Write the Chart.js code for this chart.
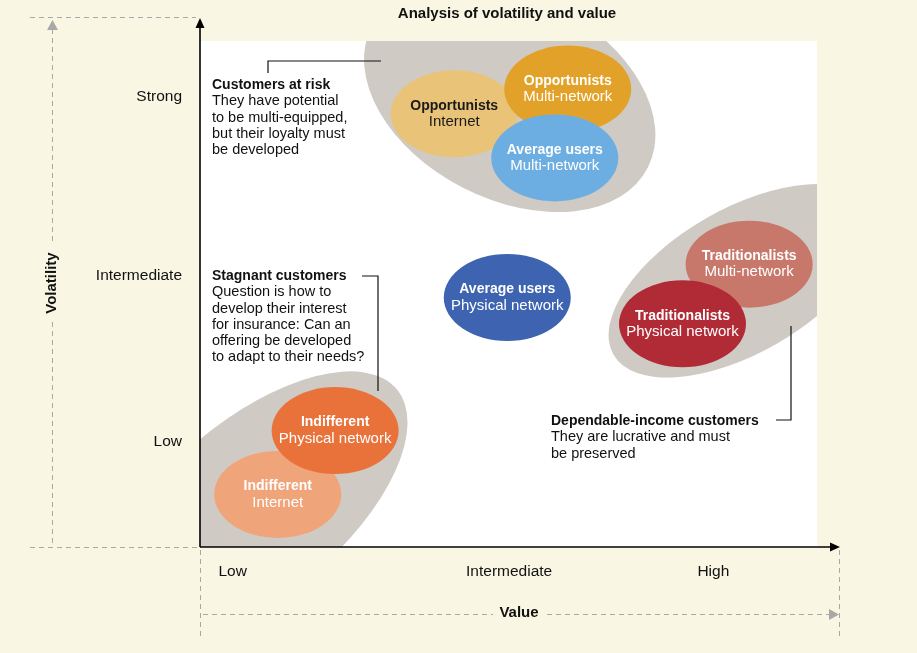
<!DOCTYPE html>
<html>
<head>
<meta charset="utf-8">
<script src="https://cdn.jsdelivr.net/npm/chart.js@4.4.1/dist/chart.umd.min.js"></script>
<style>
  html, body { margin: 0; padding: 0; background: #f9f6e3; }
  #wrap { width: 917px; height: 653px; }
</style>
</head>
<body>
<div id="wrap"><canvas id="quadrant"></canvas></div>
<script>
// customer segments (bubbles)
const segmentNames = ['Opportunists', 'Opportunists', 'Average users', 'Average users', 'Traditionalists', 'Traditionalists', 'Indifferent', 'Indifferent'];
const channelNames = ['Internet', 'Multi-network', 'Multi-network', 'Physical network', 'Multi-network', 'Physical network', 'Internet', 'Physical network'];
const valueScores = [41.2, 59.6, 57.5, 49.8, 89.0, 78.2, 12.6, 21.9];
const volatilityScores = [85.6, 90.5, 76.9, 49.3, 55.9, 44.1, 10.4, 23.0];

// grey groupings behind the bubbles
const groupNames = ['Customers at risk', 'Dependable-income customers', 'Stagnant customers'];
const groupValue = [50.2, 87.8, 8.9];
const groupVolatility = [88.9, 52.6, 7.7];

// axis ticks
const valueTicks = [5.3, 50.1, 83.2];
const valueTickLabels = ['Low', 'Intermediate', 'High'];
const volatilityTicks = [88.9, 53.6, 20.8];
const volatilityTickLabels = ['Strong', 'Intermediate', 'Low'];

// styles
const FONT = '"Liberation Sans", Arial, Helvetica, sans-serif';
const INK = '#111';
const bubbleColors = ['#e9c377', '#e2a229', '#6caee2', '#3d63b1', '#c8786b', '#b12b37', '#efa479', '#e9723a'];
const bubbleInk = ['#1a1a1a', '#fff', '#fff', '#fff', '#fff', '#fff', '#fff', '#fff'];
const BUBBLE_RX = 63.5, BUBBLE_RY = 43.5;
const hullShape = [{a: 155, b: 102, rot: 27}, {a: 148, b: 72, rot: -30}, {a: 185, b: 88, rot: -40}];

const notes = [
  {x: 212, y: 85, lines: ['Customers at risk', 'They have potential', 'to be multi-equipped,', 'but their loyalty must', 'be developed'],
   bracket: [[268, 73], [268, 61], [381, 61]]},
  {x: 212, y: 276, lines: ['Stagnant customers', 'Question is how to', 'develop their interest', 'for insurance: Can an', 'offering be developed', 'to adapt to their needs?'],
   bracket: [[362, 276], [378, 276], [378, 391]]},
  {x: 551, y: 421, lines: ['Dependable-income customers', 'They are lucrative and must', 'be preserved'],
   bracket: [[776, 420], [791, 420], [791, 326]]}
];

function ellipse(ctx, x, y, rx, ry, rot, fill) {
  ctx.beginPath();
  ctx.ellipse(x, y, rx, ry, rot * Math.PI / 180, 0, Math.PI * 2);
  ctx.fillStyle = fill;
  ctx.fill();
}

function line(ctx, pts) {
  ctx.beginPath();
  ctx.moveTo(pts[0][0], pts[0][1]);
  for (let i = 1; i < pts.length; i++) ctx.lineTo(pts[i][0], pts[i][1]);
  ctx.stroke();
}

function tri(ctx, pts, fill) {
  ctx.beginPath();
  ctx.moveTo(pts[0][0], pts[0][1]);
  ctx.lineTo(pts[1][0], pts[1][1]);
  ctx.lineTo(pts[2][0], pts[2][1]);
  ctx.closePath();
  ctx.fillStyle = fill;
  ctx.fill();
}

const quadrantPlugin = {
  id: 'quadrant',
  beforeDraw(chart) {
    const {ctx, chartArea: a} = chart;
    ctx.save();
    ctx.fillStyle = '#f9f6e3';
    ctx.fillRect(0, 0, chart.width, chart.height);
    ctx.fillStyle = '#fff';
    ctx.fillRect(a.left, a.top, a.right - a.left, a.bottom - a.top);
    ctx.restore();
  },
  beforeDatasetsDraw(chart) {
    const {ctx, chartArea: a} = chart;
    ctx.save();
    ctx.beginPath();
    ctx.rect(a.left, a.top, a.right - a.left, a.bottom - a.top);
    ctx.clip();
    chart.getDatasetMeta(1).data.forEach((pt, i) => {
      const h = hullShape[i];
      ellipse(ctx, pt.x, pt.y, h.a, h.b, h.rot, '#cfcac4');
    });
    ctx.textAlign = 'center';
    ctx.textBaseline = 'middle';
    chart.getDatasetMeta(0).data.forEach((pt, i) => {
      ellipse(ctx, pt.x, pt.y, BUBBLE_RX, BUBBLE_RY, 0, bubbleColors[i]);
      ctx.fillStyle = bubbleInk[i];
      ctx.font = 'bold 14px ' + FONT;
      ctx.fillText(segmentNames[i], pt.x, pt.y - 8);
      ctx.font = '15px ' + FONT;
      ctx.fillText(channelNames[i], pt.x, pt.y + 8);
    });
    ctx.restore();
  },
  afterDraw(chart) {
    const {ctx, chartArea: a} = chart;
    ctx.save();

    // dashed guides
    ctx.strokeStyle = '#a8a8a8';
    ctx.lineWidth = 1;
    ctx.setLineDash([5, 4]);
    line(ctx, [[30, 17.5], [196, 17.5]]);
    line(ctx, [[30, a.bottom + 0.5], [197, a.bottom + 0.5]]);
    line(ctx, [[52.5, 29], [52.5, 243]]);
    line(ctx, [[52.5, 322], [52.5, a.bottom]]);
    line(ctx, [[a.left + 0.5, a.bottom + 3], [a.left + 0.5, 637]]);
    line(ctx, [[839.5, a.bottom + 3], [839.5, 637]]);
    line(ctx, [[203, 614.5], [493, 614.5]]);
    line(ctx, [[547, 614.5], [830, 614.5]]);
    ctx.setLineDash([]);
    tri(ctx, [[52.5, 20], [47, 30], [58, 30]], '#a8a8a8');
    tri(ctx, [[839, 614.5], [829, 609], [829, 620]], '#a8a8a8');

    // axes
    ctx.strokeStyle = '#000';
    ctx.lineWidth = 1.6;
    line(ctx, [[a.left, a.bottom], [a.left, 27]]);
    line(ctx, [[a.left, a.bottom], [831, a.bottom]]);
    tri(ctx, [[a.left, 18], [a.left - 4.5, 28], [a.left + 4.5, 28]], '#000');
    tri(ctx, [[840, a.bottom], [830, a.bottom - 4.5], [830, a.bottom + 4.5]], '#000');

    // titles
    ctx.fillStyle = INK;
    ctx.textAlign = 'center';
    ctx.textBaseline = 'middle';
    ctx.font = 'bold 15px ' + FONT;
    ctx.fillText('Analysis of volatility and value', 507, 14);
    ctx.fillText('Value', 519, 613);
    ctx.save();
    ctx.translate(52, 283);
    ctx.rotate(-Math.PI / 2);
    ctx.fillText('Volatility', 0, 0);
    ctx.restore();

    // group notes
    ctx.textAlign = 'left';
    notes.forEach(n => {
      n.lines.forEach((t, j) => {
        ctx.font = (j === 0 ? 'bold 14px ' : '14.5px ') + FONT;
        ctx.fillText(t, n.x, n.y + j * 16.25);
      });
    });
    ctx.strokeStyle = '#111';
    ctx.lineWidth = 1.2;
    notes.forEach(n => line(ctx, n.bracket));

    ctx.restore();
  }
};

new Chart(document.getElementById('quadrant'), {
  type: 'scatter',
  data: {
    datasets: [{
      label: 'Segments',
      data: valueScores.map((v, i) => ({x: v, y: volatilityScores[i]})),
      pointRadius: 0,
      pointHoverRadius: 0
    }, {
      label: 'Groups',
      data: groupValue.map((v, i) => ({x: v, y: groupVolatility[i]})),
      pointRadius: 0,
      pointHoverRadius: 0
    }]
  },
  options: {
    responsive: true,
    maintainAspectRatio: false,
    devicePixelRatio: 1,
    animation: false,
    events: [],
    layout: { padding: { top: 41, right: 100, left: 0, bottom: 0 } },
    plugins: { legend: { display: false }, tooltip: { enabled: false } },
    scales: {
      x: {
        type: 'linear', min: 0, max: 100,
        grid: { display: false, drawTicks: false },
        border: { display: false },
        afterBuildTicks: s => { s.ticks = valueTicks.map(v => ({value: v})); },
        afterFit: s => { s.height = 106; },
        ticks: {
          autoSkip: false, maxRotation: 0, padding: 15, color: INK,
          font: { family: FONT, size: 15.5 },
          callback: (v, i) => valueTickLabels[i]
        }
      },
      y: {
        type: 'linear', min: 0, max: 100,
        grid: { display: false, drawTicks: false },
        border: { display: false },
        afterBuildTicks: s => { s.ticks = volatilityTicks.map(v => ({value: v})); },
        afterFit: s => { s.width = 200; },
        ticks: {
          autoSkip: false, padding: 18, color: INK,
          font: { family: FONT, size: 15.5 },
          callback: (v, i) => volatilityTickLabels[i]
        }
      }
    }
  },
  plugins: [quadrantPlugin]
});
</script>
</body>
</html>
